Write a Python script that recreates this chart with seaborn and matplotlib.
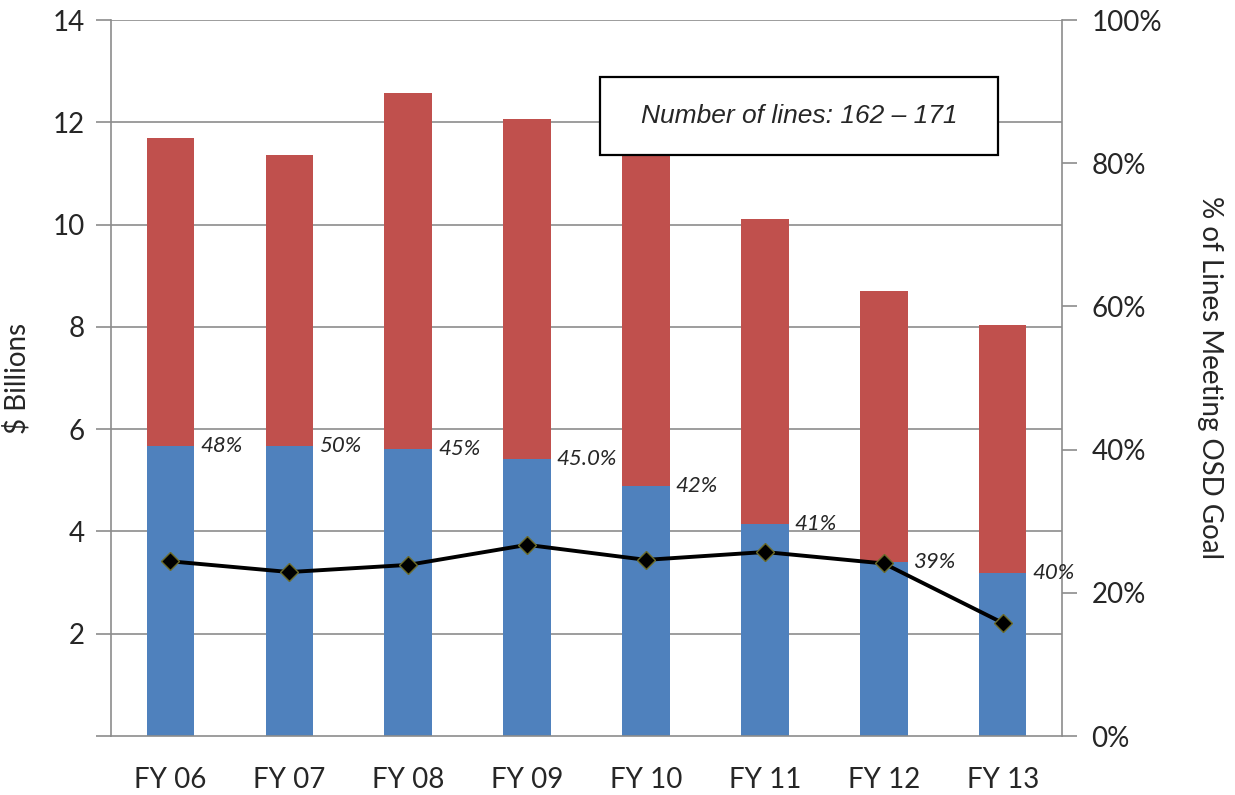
import numpy as np
import pandas as pd
import matplotlib
matplotlib.use("Agg")
import matplotlib.pyplot as plt
import seaborn as sns
from matplotlib.patches import Rectangle

# 数据
years = ['FY 06', 'FY 07', 'FY 08', 'FY 09', 'FY 10', 'FY 11', 'FY 12', 'FY 13']
total_billions = [11.70, 11.36, 12.58, 12.07, 11.80, 10.10, 8.70, 8.04]
blue_billions = [5.68, 5.68, 5.61, 5.42, 4.89, 4.15, 3.41, 3.18]
pct_meeting = [0.244, 0.229, 0.239, 0.267, 0.246, 0.257, 0.241, 0.158]
pct_labels = ['48%', '50%', '45%', '45.0%', '42%', '41%', '39%', '40%']
box_text = 'Number of lines: 162 \u2013 171'

df = pd.DataFrame({'year': years, 'total': total_billions, 'blue': blue_billions,
                   'pct': pct_meeting})

sns.set_style('white')
plt.rcParams['font.family'] = ['Lato', 'DejaVu Sans']

fig = plt.figure(figsize=(12.35, 7.95), dpi=100)
ax = fig.add_axes([0.0899, 0.0742, 0.7701, 0.9006])

grid_c = '#8c8c8c'
for v in range(2, 15, 2):
    ax.axhline(v, color=grid_c, lw=1.2, zorder=0)

sns.barplot(data=df, x='year', y='total', color='#C0504D', width=0.4,
            saturation=1, linewidth=0, ax=ax, zorder=2)
sns.barplot(data=df, x='year', y='blue', color='#4F81BD', width=0.4,
            saturation=1, linewidth=0, ax=ax, zorder=2)

ax.set_xlim(-0.5, len(years) - 0.5)
ax.set_ylim(0, 14)
ax.set_yticks(range(0, 15, 2))
ax.set_yticklabels([''] + [str(v) for v in range(2, 15, 2)])
ax.set_xticks(np.arange(len(years)))
ax.set_xticklabels(years)
ax.set_xticks(np.arange(-0.5, len(years)), minor=True)
ax.tick_params(axis='x', which='major', length=0, labelsize=20, pad=22)
ax.tick_params(axis='x', which='minor', length=11, width=1.2, color=grid_c, direction='out')
ax.tick_params(axis='y', length=11, width=1.2, color=grid_c, direction='out',
               labelsize=20, pad=8)
ax.set_xlabel(None)
ax.set_ylabel('$ Billions', fontsize=20, labelpad=16)
for s in ['left', 'bottom', 'right']:
    ax.spines[s].set_color(grid_c)
    ax.spines[s].set_linewidth(1.2)
ax.spines['top'].set_visible(False)

# 百分比标签
for i, (lab, b) in enumerate(zip(pct_labels, blue_billions)):
    ax.text(i + 0.25, b, lab, fontsize=16, style='italic', color='#262626',
            va='center', ha='left', zorder=5)

# 右轴折线
ax2 = ax.twinx()
sns.lineplot(x=np.arange(len(years)), y=pct_meeting, ax=ax2, color='black', lw=2.8,
             marker='D', markersize=9, markerfacecolor='black',
             markeredgecolor='#6b6b2a', markeredgewidth=1, zorder=4)
ax2.set_ylim(0, 1)
ax2.set_yticks(np.arange(0, 1.01, 0.2))
ax2.set_yticklabels([f'{int(round(v * 100))}%' for v in np.arange(0, 1.01, 0.2)])
ax2.tick_params(axis='y', length=11, width=1.2, color=grid_c, direction='out',
                labelsize=20, pad=10)
ax2.set_ylabel('% of Lines Meeting OSD Goal', fontsize=20, rotation=-90, labelpad=44)
ax2.grid(False)
for s in ax2.spines.values():
    s.set_visible(False)

# 文本框
ax2.add_patch(Rectangle((0.514, 0.811), 0.419, 0.109, transform=ax2.transAxes,
                        facecolor='white', edgecolor='black', lw=1.6, zorder=6))
ax2.text(0.7235, 0.8655, box_text, transform=ax2.transAxes, ha='center', va='center',
         fontsize=19, style='italic', family=['Liberation Sans', 'DejaVu Sans'], zorder=7)

plt.savefig('out.png', dpi=100)
